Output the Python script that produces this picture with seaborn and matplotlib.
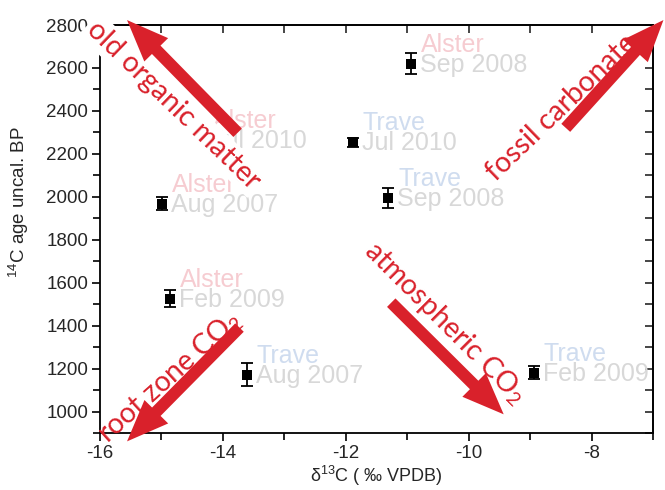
import matplotlib
matplotlib.use("Agg")
import matplotlib.pyplot as plt
from matplotlib.ticker import MultipleLocator
import seaborn as sns
import pandas as pd

# ---- data ----
sites = ["Alster", "Trave", "Trave", "Alster", "Alster", "Trave", "Trave", "Alster"]
dates = ["Sep 2008", "Jul 2010", "Sep 2008", "Aug 2007", "Feb 2009", "Aug 2007", "Feb 2009", "Jul 2010"]
d13c = [-10.94, -11.89, -11.31, -14.99, -14.86, -13.61, -8.94, -14.33]
age = [2620, 2253, 1995, 1968, 1525, 1172, 1180, 2265]
age_err = [50, 20, 45, 30, 40, 55, 30, 25]

x_ticks = [-16, -14, -12, -10, -8]
y_ticks = [1000, 1200, 1400, 1600, 1800, 2000, 2200, 2400, 2600, 2800]

arrow_labels = ["old organic matter", "fossil carbonate",
                "root zone CO$_\\mathregular{2}$", "atmospheric CO$_\\mathregular{2}$"]

# ---- style ----
sns.set_style("ticks")
plt.rcParams['font.family'] = ['Liberation Sans', 'DejaVu Sans']
plt.rcParams['mathtext.fontset'] = 'custom'
plt.rcParams['mathtext.rm'] = 'Liberation Sans'
plt.rcParams['mathtext.it'] = 'Liberation Sans:italic'
plt.rcParams['axes.unicode_minus'] = False

RED = '#d9212b'
site_colors = {"Alster": "#f6ccd1", "Trave": "#cfdcef"}
DATE_COLOR = '#d8d8d8'

fig = plt.figure(figsize=(6.65, 4.9), dpi=100)
ax = fig.add_axes([100 / 665, 1 - 433 / 490, 553 / 665, 408 / 490])

df = pd.DataFrame(dict(site=sites, date=dates, d13c=d13c, age=age, err=age_err))

ax.errorbar(df['d13c'], df['age'], yerr=df['err'], fmt='none', ecolor='black',
            elinewidth=1.3, capsize=4.5, capthick=1.3, zorder=3)
sns.scatterplot(data=df, x='d13c', y='age', marker='s', s=55, color='black',
                edgecolor='black', linewidth=0, ax=ax, zorder=4, legend=False)

# point labels
for _, r in df.iterrows():
    ax.annotate(r['date'], (r['d13c'], r['age']), xytext=(9, -8), textcoords='offset pixels',
                ha='left', va='baseline', fontsize=18, color=DATE_COLOR, zorder=2,
                annotation_clip=False)
    ax.annotate(r['site'], (r['d13c'], r['age']), xytext=(10, 12), textcoords='offset pixels',
                ha='left', va='baseline', fontsize=18, color=site_colors[r['site']], zorder=2,
                annotation_clip=False)

# axes limits and ticks
ax.set_xlim(-16, -7)
ax.set_ylim(900, 2800)
ax.set_xticks(x_ticks)
ax.set_yticks(y_ticks)
ax.xaxis.set_minor_locator(MultipleLocator(1))
ax.yaxis.set_minor_locator(MultipleLocator(100))
ax.tick_params(which='both', direction='out', width=1.2, labelsize=13.5, color='black')
ax.tick_params(which='major', length=6, pad=2.5)
ax.tick_params(which='minor', length=5)
for s in ax.spines.values():
    s.set_linewidth(1.3)
    s.set_color('black')

secx = ax.secondary_xaxis('top')
secx.set_xticks(x_ticks)
secx.xaxis.set_minor_locator(MultipleLocator(1))
secx.tick_params(which='both', direction='in', length=6, width=1.2, labeltop=False)
secx.spines['top'].set_linewidth(1.3)
secy = ax.secondary_yaxis('right')
secy.set_yticks(y_ticks)
secy.yaxis.set_minor_locator(MultipleLocator(100))
secy.tick_params(which='both', direction='in', length=6, width=1.2, labelright=False)
secy.spines['right'].set_linewidth(1.3)

ax.set_xlabel("δ$^{13}$C ( ‰ VPDB)", fontsize=13)
ax.set_ylabel("$^{14}$C age uncal. BP", fontsize=13.5)
ax.xaxis.set_label_coords(0.5, -0.075)
ax.yaxis.set_label_coords(-0.125, 0.565)

# red arrows (tail -> head, data coordinates)
arrows = [((-13.76, 2298), (-15.56, 2823)),
          ((-8.42, 2321), (-6.83, 2823)),
          ((-13.73, 1391), (-15.56, 861)),
          ((-11.26, 1507), (-9.43, 987))]
for tail, head in arrows:
    an = ax.annotate('', xy=head, xytext=tail, annotation_clip=False, zorder=7,
                     arrowprops=dict(facecolor=RED, edgecolor='none', width=8.6,
                                     headwidth=24, headlength=30, shrink=0))
    an.arrow_patch.set_clip_on(False)

text_pos = [(-14.80, 2428, -44), (-8.48, 2414, 44), (-14.87, 1162, 42), (-10.38, 1414, -45)]
for lab, (tx, ty, rot) in zip(arrow_labels, text_pos):
    kw = {}
    if lab.startswith("old"):
        kw['bbox'] = dict(facecolor='white', edgecolor='none', pad=2)
    ax.text(tx, ty, lab, rotation=rot, rotation_mode='anchor', ha='center', va='center',
            fontsize=20.5, color=RED, family=['Lato', 'DejaVu Sans'], zorder=6,
            clip_on=False, **kw)

fig.savefig("out.png", dpi=100)
